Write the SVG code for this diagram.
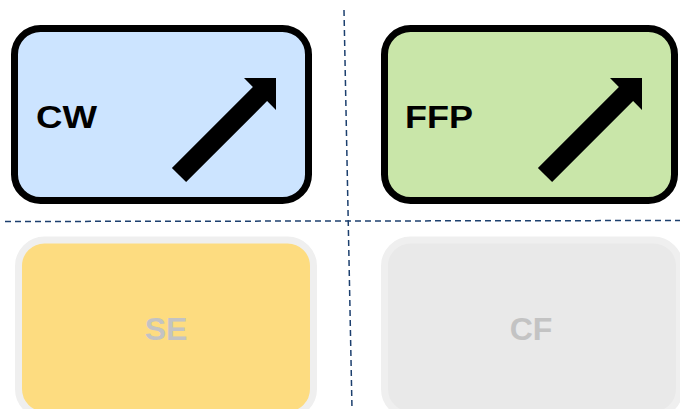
<svg xmlns="http://www.w3.org/2000/svg" width="680" height="409" viewBox="0 0 680 409">
  <style>
    .label { font-family: "Liberation Sans", Arial, sans-serif; font-weight: bold; font-size: 32px; }
    .active { stroke: #000; stroke-width: 7; }
    .muted { stroke: #efefef; stroke-width: 7; }
    .muted-text { fill: #c3c3c3; text-anchor: middle; }
    .divider { stroke: #1c3f6e; stroke-width: 1.5; stroke-dasharray: 6 4; fill: none; }
    .arrow { fill: #000; }
  </style>

  <rect width="680" height="409" fill="#ffffff"/>

  <!-- quadrant dividers -->
  <g id="connectors">
    <line class="divider" x1="5" y1="221.5" x2="680" y2="220.5"/>
    <line class="divider" x1="344" y1="10" x2="352" y2="409"/>
  </g>

  <g id="node-cw">
    <rect class="active" x="14.5" y="28.5" width="294" height="172" rx="26" fill="#cce4ff"/>
    <text class="label" x="36" y="128" fill="#000" textLength="61" lengthAdjust="spacingAndGlyphs">CW</text>
    <polygon class="arrow" points="276,78 276,110 267.1,101.1 186.1,182.1 171.9,167.9 252.9,86.9 244,78"/>
  </g>

  <g id="node-ffp">
    <rect class="active" x="384.5" y="28.5" width="290" height="172" rx="26" fill="#c9e6a9"/>
    <text class="label" x="405" y="128" fill="#000" textLength="68" lengthAdjust="spacingAndGlyphs">FFP</text>
    <polygon class="arrow" transform="translate(366,0)" points="276,78 276,110 267.1,101.1 186.1,182.1 171.9,167.9 252.9,86.9 244,78"/>
  </g>

  <g id="node-se">
    <rect class="muted" x="18.5" y="240" width="295" height="175" rx="26" fill="#fddc80"/>
    <text class="label muted-text" x="166" y="340">SE</text>
  </g>

  <g id="node-cf">
    <rect class="muted" x="384.5" y="240" width="295" height="175" rx="26" fill="#e9e9e9"/>
    <text class="label muted-text" x="531" y="340">CF</text>
  </g>
</svg>
